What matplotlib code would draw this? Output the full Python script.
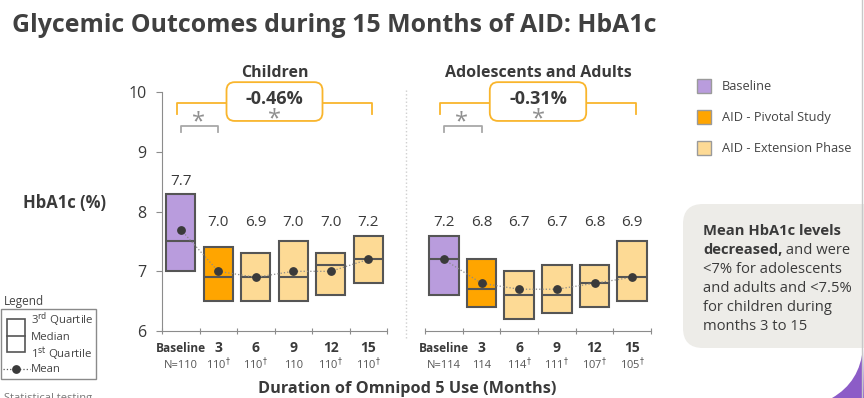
import numpy as np
import matplotlib
matplotlib.use('Agg')
import matplotlib.pyplot as plt
from matplotlib.patches import FancyBboxPatch, Rectangle, PathPatch
from matplotlib.path import Path

plt.rcParams['font.family'] = ['Open Sans', 'DejaVu Sans']
plt.rcParams['mathtext.fontset'] = 'dejavusans'

W, H = 864, 398

# ---- data ----
months = ['Baseline', '3', '6', '9', '12', '15']
phase = ['Baseline', 'AID - Pivotal Study', 'AID - Extension Phase',
         'AID - Extension Phase', 'AID - Extension Phase', 'AID - Extension Phase']

child_n = ['N=110', '110†', '110†', '110', '110†', '110†']
child_q1 = [7.0, 6.5, 6.5, 6.5, 6.6, 6.8]
child_med = [7.5, 6.9, 6.9, 6.9, 7.1, 7.2]
child_q3 = [8.3, 7.4, 7.3, 7.5, 7.3, 7.6]
child_mean = [7.7, 7.0, 6.9, 7.0, 7.0, 7.2]
child_change = '-0.46%'

adult_n = ['N=114', '114', '114†', '111†', '107†', '105†']
adult_q1 = [6.6, 6.4, 6.2, 6.3, 6.4, 6.5]
adult_med = [7.2, 6.7, 6.6, 6.6, 6.8, 6.9]
adult_q3 = [7.6, 7.2, 7.0, 7.1, 7.1, 7.5]
adult_mean = [7.2, 6.8, 6.7, 6.7, 6.8, 6.9]
adult_change = '-0.31%'

summary_lines = [
    [('Mean HbA1c levels', 'bold')],
    [('decreased,', 'bold'), (' and were', 'normal')],
    [('<7% for adolescents', 'normal')],
    [('and adults and <7.5%', 'normal')],
    [('for children during', 'normal')],
    [('months 3 to 15', 'normal')],
]

phase_colors = {'Baseline': '#B99CDD',
                'AID - Pivotal Study': '#FFA500',
                'AID - Extension Phase': '#FDDA95'}
EDGE = '#555555'
TXT = '#3a3a3a'
AXC = '#8c8c8c'
BRACKET = '#F9B52C'
STAR = '#8f8f8f'


def dag(s):
    return s.replace('†', r'$^{\dagger}$')


fig = plt.figure(figsize=(W / 100, H / 100), dpi=100)


def px_axes(x0, x1, y10, y6, ytop):
    # axes whose data y 6..10 lands on given pixel rows
    unit = (y6 - y10) / 4.0
    top_px = y10 - (ytop - 10) * unit
    return fig.add_axes([x0 / W, 1 - y6 / H, (x1 - x0) / W, (y6 - top_px) / H])


def panel(ax, title, n_lbl, q1, med, q3, mean, change, show_y):
    x = np.arange(len(months))
    q1 = np.array(q1)
    q3 = np.array(q3)
    cols = [phase_colors[p] for p in phase]
    bw = 0.78
    ax.bar(x, q3 - q1, bottom=q1, width=bw, color=cols, edgecolor=EDGE,
           linewidth=1.5, zorder=2)
    ax.hlines(med, x - bw / 2, x + bw / 2, color=EDGE, lw=1.5, zorder=3)
    ax.plot(x, mean, ls=':', color='#8a8a8a', lw=0.9, zorder=4)
    ax.plot(x, mean, 'o', color='#3a3a3a', ms=5.3, zorder=5)
    for xi, m, top in zip(x, mean, q3):
        ax.text(xi, max(top + 0.2, 7.82), f'{m:.1f}', ha='center', va='center',
                fontsize=11, color=TXT)

    ax.set_xlim(-0.5, 5.5)
    ax.set_ylim(6, 10.6)
    for s in ['top', 'right']:
        ax.spines[s].set_visible(False)
    ax.spines['bottom'].set_color(AXC)
    ax.spines['bottom'].set_bounds(-0.5, 5.5)
    ax.set_xticks(np.arange(-0.5, 6, 1))
    ax.tick_params(axis='x', direction='inout', length=5, color=AXC, labelbottom=False)
    if show_y:
        ax.spines['left'].set_color(AXC)
        ax.spines['left'].set_bounds(6, 10)
        ax.set_yticks([6, 7, 8, 9, 10])
        ax.tick_params(axis='y', direction='out', length=4, color=AXC,
                       labelsize=11.5, labelcolor=TXT, pad=7)
    else:
        ax.spines['left'].set_visible(False)
        ax.yaxis.set_visible(False)
    ax.patch.set_visible(False)

    for xi, lab, n in zip(x, months, n_lbl):
        ax.text(xi, 5.643, lab, ha='center', va='baseline', fontweight='bold',
                fontsize=8.6 if lab == 'Baseline' else 10, color=TXT, clip_on=False)
        ax.text(xi, 5.375, dag(n), ha='center', va='baseline', fontsize=8,
                color='#555555', clip_on=False)

    ax.text(2.5, 10.26, title, ha='center', va='baseline', fontsize=11.5,
            fontweight='bold', color=TXT, clip_on=False)

    # overall change bracket
    ax.plot([-0.1, -0.1, 5.1, 5.1], [9.63, 9.82, 9.82, 9.63], color=BRACKET,
            lw=1.3, clip_on=False, zorder=6)
    box = FancyBboxPatch((1.22, 9.52), 2.56, 0.65,
                         boxstyle='round,pad=0,rounding_size=0.22',
                         mutation_aspect=0.63, fc='white', ec=BRACKET, lw=1.3,
                         clip_on=False, zorder=7)
    ax.add_patch(box)
    ax.text(2.5, 9.80, change, ha='center', va='baseline', fontsize=13,
            fontweight='bold', color=TXT, zorder=8)
    ax.text(2.5, 9.44, '*', ha='center', va='baseline', fontsize=17,
            color=STAR, zorder=8)
    # baseline -> 3 months bracket
    ax.plot([0, 0, 1, 1], [9.33, 9.44, 9.44, 9.33], color='#a8a8a8', lw=1.3,
            clip_on=False)
    ax.text(0.48, 9.40, '*', ha='center', va='baseline', fontsize=17, color=STAR)


ax1 = px_axes(162, 387, 92.3, 331, 10.6)
panel(ax1, 'Children', child_n, child_q1, child_med, child_q3, child_mean,
      child_change, True)
ax2 = px_axes(425, 651, 92.3, 331, 10.6)
panel(ax2, 'Adolescents and Adults', adult_n, adult_q1, adult_med, adult_q3,
      adult_mean, adult_change, False)

# ---- overlay in pixel coordinates for slide furniture ----
ov = fig.add_axes([0, 0, 1, 1], zorder=-1)
ov.set_xlim(0, W)
ov.set_ylim(H, 0)
ov.axis('off')

ov.text(12, 31.7, 'Glycemic Outcomes during 15 Months of AID: HbA1c',
        fontsize=17.9, fontweight='bold', color='#404040', va='baseline')
ov.text(23, 208, 'HbA1c (%)', fontsize=12, fontweight='bold', color=TXT,
        va='baseline')
ov.text(258, 393, 'Duration of Omnipod 5 Use (Months)', fontsize=11.7,
        fontweight='bold', color=TXT, va='baseline')

# separator between panels and slide edge
ov.plot([406, 406], [90, 340], color='#cfcfcf', lw=1, ls=':')
ov.plot([861.5, 861.5], [0, H], color='#c8c8c8', lw=1)

# colour legend
for i, name in enumerate(['Baseline', 'AID - Pivotal Study', 'AID - Extension Phase']):
    yy = 79 + 31 * i
    ov.add_patch(Rectangle((697, yy), 14, 14, fc=phase_colors[name], ec='#9a9a9a', lw=1))
    ov.text(722, yy + 7, name, fontsize=9.2, color='#444444', va='center')

# summary box
ov.add_patch(FancyBboxPatch((683, 204), 200, 144,
                            boxstyle='round,pad=0,rounding_size=20',
                            fc='#EDECE8', ec='none'))
fig.canvas.draw()
renderer = fig.canvas.get_renderer()
for i, parts in enumerate(summary_lines):
    xx = 703
    yy = 235 + 19.1 * i
    for txt, wt in parts:
        t = ov.text(xx, yy, txt, fontsize=10.6, fontweight=wt, color=TXT,
                    va='baseline')
        bb = t.get_window_extent(renderer)
        xx += bb.width * W / fig.bbox.width

# purple corner swoosh
verts = [(863, 348), (860, 382), (832, 398), (864, 398), (863, 348)]
codes = [Path.MOVETO, Path.CURVE3, Path.CURVE3, Path.LINETO, Path.CLOSEPOLY]
ov.add_patch(PathPatch(Path(verts, codes), fc='#8C5CC7', ec='none'))

# box/whisker key
ov.text(4, 301, 'Legend', fontsize=8.5, color='#444444', va='center')
ov.add_patch(Rectangle((0.5, 309), 95.5, 70, fc='none', ec='#8a8a8a', lw=1))
ov.add_patch(Rectangle((7, 319), 18, 33, fc='none', ec='#555555', lw=1.2))
ov.plot([7, 25], [335.5, 335.5], color='#555555', lw=1.2)
ov.plot([3, 30], [369, 369], color='#555555', lw=0.9, ls=':')
ov.plot([16], [369], 'o', color='#3a3a3a', ms=5.3)
ov.text(31, 320, r'3$^{\rm rd}$ Quartile', fontsize=8.2, color='#444444', va='center')
ov.text(31, 337, 'Median', fontsize=8.2, color='#444444', va='center')
ov.text(31, 354, r'1$^{\rm st}$ Quartile', fontsize=8.2, color='#444444', va='center')
ov.text(31, 369, 'Mean', fontsize=8.2, color='#444444', va='center')
ov.text(4, 393, 'Statistical testing', fontsize=8, color='#777777', va='top')

fig.savefig('out.png', dpi=100)
